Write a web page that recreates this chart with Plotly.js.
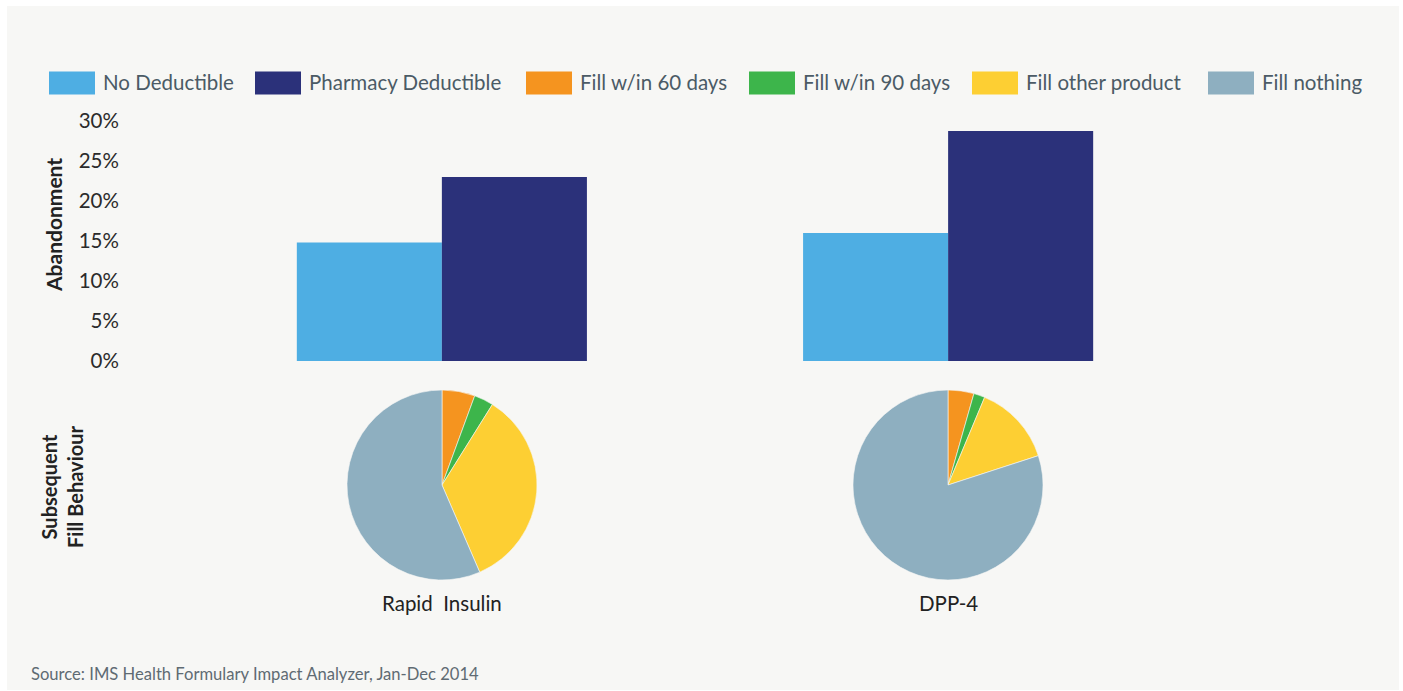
<!DOCTYPE html>
<html>
<head>
<meta charset="utf-8">
<script src="https://cdn.plot.ly/plotly-3.0.1.min.js"></script>
<style>html,body{margin:0;padding:0;background:#fff;}#chart{width:1403px;height:691px;}</style>
</head>
<body>
<div id="chart"></div>
<script>
// ---- data ----
const categories = ['Rapid Insulin', 'DPP-4'];
const categoryLabels = ['Rapid\u00a0 Insulin', 'DPP-4'];
const barSeries = ['No Deductible', 'Pharmacy Deductible'];
const noDeductible = [14.8, 16.0];
const pharmacyDeductible = [23.0, 28.75];
const fillSlices = ['Fill w/in 60 days', 'Fill w/in 90 days', 'Fill other product', 'Fill nothing'];
const rapidInsulinFill = [5.6, 3.3, 34.6, 56.5];
const dpp4Fill = [4.4, 1.9, 13.7, 80.0];
const yTicks = [0, 5, 10, 15, 20, 25, 30];
const yTickLabels = ['0%', '5%', '10%', '15%', '20%', '25%', '30%'];
const sourceNote = 'Source: IMS Health Formulary Impact Analyzer, Jan-Dec 2014';

// ---- styles ----
const W = 1403, H = 691;
const barColors = ['#4eaee3', '#2b317a'];
const sliceColors = ['#f5941f', '#3db54b', '#fdcf33', '#8eafc0'];
const font = 'Lato, "Open Sans", sans-serif';
const px = v => v / W;
const py = v => 1 - v / H;

const traces = [
  {type: 'bar', name: barSeries[0], x: categories, y: noDeductible, marker: {color: barColors[0]}, showlegend: false, hoverinfo: 'y'},
  {type: 'bar', name: barSeries[1], x: categories, y: pharmacyDeductible, marker: {color: barColors[1]}, showlegend: false, hoverinfo: 'y'}
];
const pieData = [rapidInsulinFill, dpp4Fill];
const pieCenters = [442, 948];
const pieCy = 485, pieR = 95;
pieData.forEach((vals, i) => {
  traces.push({
    type: 'pie', labels: fillSlices, values: vals, sort: false, direction: 'clockwise', rotation: 0,
    marker: {colors: sliceColors, line: {color: '#f7f7f5', width: 0.6}},
    textinfo: 'none', showlegend: false, hoverinfo: 'label+percent',
    domain: {x: [px(pieCenters[i] - pieR), px(pieCenters[i] + pieR)], y: [py(pieCy + pieR), py(pieCy - pieR)]}
  });
});

// ---- custom legend ----
const legendNames = barSeries.concat(fillSlices);
const legendColors = barColors.concat(sliceColors);
const legendX = [49, 255, 526, 749, 972, 1208];
const legendY = 83;
const shapes = [{type: 'rect', xref: 'paper', yref: 'paper', x0: px(7), x1: px(1399), y0: py(690), y1: py(6), fillcolor: '#f7f7f5', line: {width: 0}, layer: 'below'}];
const annotations = [];
legendNames.forEach((n, i) => {
  shapes.push({type: 'rect', xref: 'paper', yref: 'paper', x0: px(legendX[i]), x1: px(legendX[i] + 46), y0: py(legendY + 11.5), y1: py(legendY - 11.5), fillcolor: legendColors[i], line: {width: 0}});
  annotations.push({xref: 'paper', yref: 'paper', x: px(legendX[i] + 52), y: py(legendY - 1.5), xanchor: 'left', yanchor: 'middle', showarrow: false, text: n, font: {family: font, size: 20.5, color: '#4b5b66'}});
});
categoryLabels.forEach((c, i) => {
  annotations.push({xref: 'paper', yref: 'paper', x: px(pieCenters[i]), y: py(603), xanchor: 'center', yanchor: 'middle', showarrow: false, text: c, font: {family: font, size: 20.5, color: '#222'}});
});
annotations.push({xref: 'paper', yref: 'paper', x: px(53), y: py(225), xanchor: 'center', yanchor: 'middle', textangle: -90, showarrow: false, text: '<b>Abandonment</b>', font: {family: font, size: 21, color: '#222'}});
annotations.push({xref: 'paper', yref: 'paper', x: px(62), y: py(487), xanchor: 'center', yanchor: 'middle', textangle: -90, showarrow: false, text: '<b>Subsequent<br>Fill Behaviour</b>', font: {family: font, size: 20, color: '#222'}});
annotations.push({xref: 'paper', yref: 'paper', x: px(29), y: py(674), xanchor: 'left', yanchor: 'middle', showarrow: false, text: sourceNote, font: {family: font, size: 16.6, color: '#5f6b73'}});

const layout = {
  width: W, height: H,
  margin: {l: 0, r: 0, t: 0, b: 0},
  paper_bgcolor: '#ffffff', plot_bgcolor: 'rgba(0,0,0,0)',
  barmode: 'group', bargap: 0.427, bargroupgap: 0,
  showlegend: false,
  xaxis: {domain: [px(128), px(1262)], range: [-0.62, 1.62], showticklabels: false, showgrid: false, zeroline: false, showline: false, ticks: ''},
  yaxis: {domain: [py(361), py(121)], range: [0, 30], tickmode: 'array', tickvals: yTicks, ticktext: yTickLabels, showgrid: false, zeroline: false, showline: false,
          ticks: 'outside', ticklen: 4, tickcolor: 'rgba(0,0,0,0)', automargin: false,
          tickfont: {family: font, size: 20.5, color: '#2b2b2b'}},
  shapes: shapes, annotations: annotations,
  font: {family: font}
};
Plotly.newPlot('chart', traces, layout, {displayModeBar: false, staticPlot: true});
</script>
</body>
</html>
